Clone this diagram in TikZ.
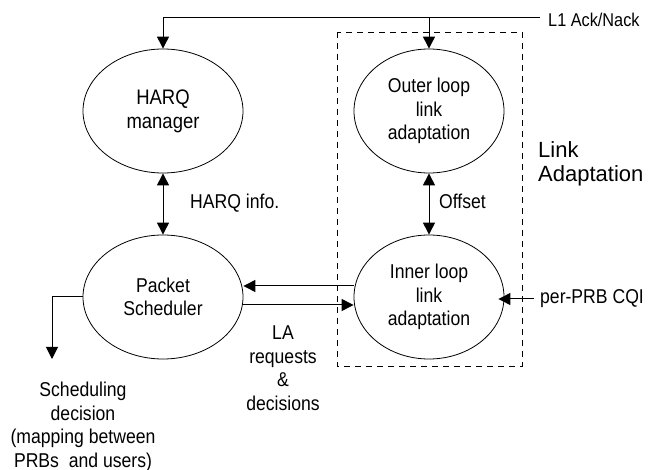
\documentclass[tikz,border=0pt]{standalone}
\usepackage{fontspec}
\setmainfont{Liberation Sans}
\newfontfamily\narrowfont{Liberation Sans}[FakeStretch=0.88]
\usetikzlibrary{arrows.meta,shapes.geometric,calc}
\begin{document}
\begin{tikzpicture}[x=1pt,y=-1pt,
  font=\narrowfont\fontsize{20}{23.5}\selectfont,
  every node/.style={text=black},
  blob/.style={draw, ellipse, line width=0.8pt, inner sep=0pt, align=center},
  conn/.style={line width=1pt},
  arr/.style={conn, -{Triangle[length=12pt,width=12pt]}},
  darr/.style={conn, {Triangle[length=12pt,width=12pt]}-{Triangle[length=12pt,width=12pt]}},
  lbl/.style={inner sep=0pt, align=center},
]
\useasboundingbox (0,0) rectangle (651,470);
% dashed box
\draw[line width=0.8pt, dash pattern=on 6pt off 5pt] (337,32) rectangle (522,366);

\node[blob, minimum width=160pt, minimum height=124pt, font=\narrowfont\fontsize{21}{24}\selectfont] (harq) at (163,111) {HARQ\\manager};
\node[blob, minimum width=150pt, minimum height=124pt] (outer) at (429,111) {Outer loop\\link\\adaptation};
\node[blob, minimum width=160pt, minimum height=124pt] (sched) at (163,297) {Packet\\Scheduler};
\node[blob, minimum width=150pt, minimum height=124pt] (inner) at (429,297) {Inner loop\\link\\adaptation};

\node[lbl, anchor=west, font=\narrowfont\fontsize{18.5}{22}\selectfont] (ack) at (548,20) {L1 Ack/Nack};
\node[lbl, anchor=west, align=left, font=\fontsize{22}{23.5}\selectfont] (la) at (538,164) {Link\\Adaptation};
\node[lbl, anchor=base west] (hinfo) at (190,209) {HARQ info.};
\node[lbl, anchor=base west] (off) at (439,209) {Offset};
\node[lbl, anchor=west] (cqi) at (540,299) {per-PRB CQI};
\node[lbl, anchor=north] (lareq) at (283,326) {LA\\requests\\\&\\decisions};
\node[lbl, anchor=north] (sdec) at (83,382) {Scheduling\\decision\\(mapping between\\PRBs\ \ and users)};
\coordinate (sdtip) at (52,359);

% connectors
\draw[arr] ([xshift=-8pt]ack.west |- 0,18) coordinate (ackend) -| (harq.north);
\draw[arr] (ackend -| outer.north) -- (outer.north);
\draw[darr] (harq.south) -- (sched.north);
\draw[darr] (outer.south) -- (inner.north);
\draw[arr] ([yshift=11pt]inner.west) -- ([yshift=11pt]sched.east);
\draw[arr] ([yshift=-8pt]sched.east) -- ([yshift=-8pt]inner.west);
\draw[arr] ([xshift=-6pt]cqi.west) -- ([xshift=-6pt]cqi.west -| inner.east);
\draw[arr] (sched.west) -| (sdtip);
\end{tikzpicture}
\end{document}
